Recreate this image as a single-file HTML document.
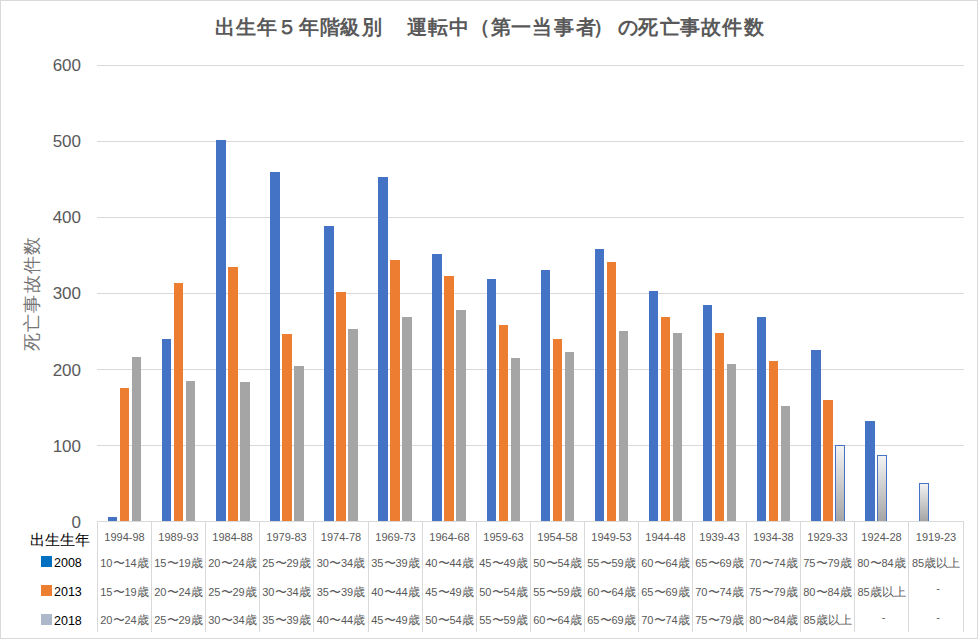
<!DOCTYPE html>
<html lang="ja"><head><meta charset="utf-8"><style>
*{margin:0;padding:0;box-sizing:border-box}
html,body{width:978px;height:639px;overflow:hidden;background:#fff}
body{position:relative;font-family:"Liberation Sans",sans-serif}
#frame{position:absolute;left:0;top:0;width:978px;height:639px;border:1px solid #D9D9D9}
svg{position:absolute;left:0;top:0}
.t{position:absolute;white-space:nowrap}
.tt{position:absolute;top:12px;font-weight:bold;font-size:19.5px;color:#595959;line-height:30px;white-space:nowrap}
.yl{position:absolute;left:30px;width:51px;text-align:right;font-size:17px;color:#595959;line-height:20px}
#ytitle{position:absolute;left:32px;top:293.5px;transform:translate(-50%,-50%) rotate(-90deg);font-size:17.5px;letter-spacing:1.3px;text-indent:1.3px;color:#757575;white-space:nowrap;line-height:22px}
.tc{position:absolute;width:54px;text-align:center;font-size:11px;color:#595959;line-height:16px;white-space:nowrap}
.lg{position:absolute;font-size:12.5px;color:#000;line-height:16px}
.sq{position:absolute;width:11px;height:11px}
.j{font-size:11.6px}
</style></head><body>
<div id="frame"></div>
<svg width="978" height="639" viewBox="0 0 978 639" shape-rendering="crispEdges">
<defs><linearGradient id="g" x1="0" y1="0" x2="0" y2="1"><stop offset="0" stop-color="#F4F4F4"/><stop offset="1" stop-color="#A5A5A5"/></linearGradient></defs>
<rect x="97" y="65" width="867" height="1" fill="#D9D9D9"/>
<rect x="97" y="141" width="867" height="1" fill="#D9D9D9"/>
<rect x="97" y="217" width="867" height="1" fill="#D9D9D9"/>
<rect x="97" y="293" width="867" height="1" fill="#D9D9D9"/>
<rect x="97" y="369" width="867" height="1" fill="#D9D9D9"/>
<rect x="97" y="445" width="867" height="1" fill="#D9D9D9"/>
<rect x="97" y="521" width="867" height="1" fill="#D9D9D9"/>
<rect x="97" y="521" width="1" height="111" fill="#D9D9D9"/>
<rect x="151" y="521" width="1" height="111" fill="#D9D9D9"/>
<rect x="205" y="521" width="1" height="111" fill="#D9D9D9"/>
<rect x="259" y="521" width="1" height="111" fill="#D9D9D9"/>
<rect x="313" y="521" width="1" height="111" fill="#D9D9D9"/>
<rect x="368" y="521" width="1" height="111" fill="#D9D9D9"/>
<rect x="422" y="521" width="1" height="111" fill="#D9D9D9"/>
<rect x="476" y="521" width="1" height="111" fill="#D9D9D9"/>
<rect x="530" y="521" width="1" height="111" fill="#D9D9D9"/>
<rect x="584" y="521" width="1" height="111" fill="#D9D9D9"/>
<rect x="638" y="521" width="1" height="111" fill="#D9D9D9"/>
<rect x="692" y="521" width="1" height="111" fill="#D9D9D9"/>
<rect x="746" y="521" width="1" height="111" fill="#D9D9D9"/>
<rect x="800" y="521" width="1" height="111" fill="#D9D9D9"/>
<rect x="854" y="521" width="1" height="111" fill="#D9D9D9"/>
<rect x="908" y="521" width="1" height="111" fill="#D9D9D9"/>
<rect x="963" y="521" width="1" height="111" fill="#D9D9D9"/>
<rect x="108" y="517" width="9" height="4" fill="#4472C4"/>
<rect x="120" y="388" width="9" height="133" fill="#ED7D31"/>
<rect x="132" y="357" width="9" height="164" fill="#A5A5A5"/>
<rect x="162" y="339" width="9" height="182" fill="#4472C4"/>
<rect x="174" y="283" width="9" height="238" fill="#ED7D31"/>
<rect x="186" y="381" width="9" height="140" fill="#A5A5A5"/>
<rect x="216" y="140" width="10" height="381" fill="#4472C4"/>
<rect x="228" y="267" width="10" height="254" fill="#ED7D31"/>
<rect x="240" y="382" width="10" height="139" fill="#A5A5A5"/>
<rect x="270" y="172" width="10" height="349" fill="#4472C4"/>
<rect x="282" y="334" width="10" height="187" fill="#ED7D31"/>
<rect x="294" y="366" width="10" height="155" fill="#A5A5A5"/>
<rect x="324" y="226" width="10" height="295" fill="#4472C4"/>
<rect x="336" y="292" width="10" height="229" fill="#ED7D31"/>
<rect x="348" y="329" width="10" height="192" fill="#A5A5A5"/>
<rect x="378" y="177" width="10" height="344" fill="#4472C4"/>
<rect x="390" y="260" width="10" height="261" fill="#ED7D31"/>
<rect x="402" y="317" width="10" height="204" fill="#A5A5A5"/>
<rect x="432" y="254" width="10" height="267" fill="#4472C4"/>
<rect x="444" y="276" width="10" height="245" fill="#ED7D31"/>
<rect x="456" y="310" width="10" height="211" fill="#A5A5A5"/>
<rect x="487" y="279" width="9" height="242" fill="#4472C4"/>
<rect x="499" y="325" width="9" height="196" fill="#ED7D31"/>
<rect x="511" y="358" width="9" height="163" fill="#A5A5A5"/>
<rect x="541" y="270" width="9" height="251" fill="#4472C4"/>
<rect x="553" y="339" width="9" height="182" fill="#ED7D31"/>
<rect x="565" y="352" width="9" height="169" fill="#A5A5A5"/>
<rect x="595" y="249" width="9" height="272" fill="#4472C4"/>
<rect x="607" y="262" width="9" height="259" fill="#ED7D31"/>
<rect x="619" y="331" width="9" height="190" fill="#A5A5A5"/>
<rect x="649" y="291" width="9" height="230" fill="#4472C4"/>
<rect x="661" y="317" width="9" height="204" fill="#ED7D31"/>
<rect x="673" y="333" width="9" height="188" fill="#A5A5A5"/>
<rect x="703" y="305" width="9" height="216" fill="#4472C4"/>
<rect x="715" y="333" width="9" height="188" fill="#ED7D31"/>
<rect x="727" y="364" width="9" height="157" fill="#A5A5A5"/>
<rect x="757" y="317" width="9" height="204" fill="#4472C4"/>
<rect x="769" y="361" width="9" height="160" fill="#ED7D31"/>
<rect x="781" y="406" width="9" height="115" fill="#A5A5A5"/>
<rect x="811" y="350" width="10" height="171" fill="#4472C4"/>
<rect x="823" y="400" width="10" height="121" fill="#ED7D31"/>
<rect x="835" y="445" width="10" height="76" fill="url(#g)"/>
<path d="M835.5 521V445.5H844.5V521" fill="none" stroke="#4472C4" stroke-width="1"/>
<rect x="865" y="421" width="10" height="100" fill="#4472C4"/>
<rect x="877" y="455" width="10" height="66" fill="url(#g)"/>
<path d="M877.5 521V455.5H886.5V521" fill="none" stroke="#4472C4" stroke-width="1"/>
<rect x="919" y="483" width="10" height="38" fill="url(#g)"/>
<path d="M919.5 521V483.5H928.5V521" fill="none" stroke="#4472C4" stroke-width="1"/>
</svg>
<span class="tt" style="left:215.1px">出</span><span class="tt" style="left:236.1px">生</span><span class="tt" style="left:257px">年</span><span class="tt" style="left:277.1px">５</span><span class="tt" style="left:299px">年</span><span class="tt" style="left:320.2px">階</span><span class="tt" style="left:340.1px">級</span><span class="tt" style="left:362.1px">別</span><span class="tt" style="left:406.8px">運</span><span class="tt" style="left:427.9px">転</span><span class="tt" style="left:449.1px">中</span><span class="tt" style="left:469.8px">（</span><span class="tt" style="left:491px">第</span><span class="tt" style="left:511px">一</span><span class="tt" style="left:532px">当</span><span class="tt" style="left:553.9px">事</span><span class="tt" style="left:575.7px">者</span><span class="tt" style="left:592.6px">）</span><span class="tt" style="left:617.5px">の</span><span class="tt" style="left:638px">死</span><span class="tt" style="left:660px">亡</span><span class="tt" style="left:680.2px">事</span><span class="tt" style="left:701.1px">故</span><span class="tt" style="left:721.9px">件</span><span class="tt" style="left:743.8px">数</span>
<div id="ytitle">死亡事故件数</div>
<div class="yl" style="top:56px">600</div>
<div class="yl" style="top:132px">500</div>
<div class="yl" style="top:208px">400</div>
<div class="yl" style="top:284px">300</div>
<div class="yl" style="top:361px">200</div>
<div class="yl" style="top:437px">100</div>
<div class="yl" style="top:513px">0</div>
<div class="tc" style="left:97.5px;top:529.0px">1994-98</div>
<div class="tc" style="left:151.5px;top:529.0px">1989-93</div>
<div class="tc" style="left:205.5px;top:529.0px">1984-88</div>
<div class="tc" style="left:259.5px;top:529.0px">1979-83</div>
<div class="tc" style="left:314.0px;top:529.0px">1974-78</div>
<div class="tc" style="left:368.5px;top:529.0px">1969-73</div>
<div class="tc" style="left:422.5px;top:529.0px">1964-68</div>
<div class="tc" style="left:476.5px;top:529.0px">1959-63</div>
<div class="tc" style="left:530.5px;top:529.0px">1954-58</div>
<div class="tc" style="left:584.5px;top:529.0px">1949-53</div>
<div class="tc" style="left:638.5px;top:529.0px">1944-48</div>
<div class="tc" style="left:692.5px;top:529.0px">1939-43</div>
<div class="tc" style="left:746.5px;top:529.0px">1934-38</div>
<div class="tc" style="left:800.5px;top:529.0px">1929-33</div>
<div class="tc" style="left:854.5px;top:529.0px">1924-28</div>
<div class="tc" style="left:909.0px;top:529.0px">1919-23</div>
<div class="tc" style="left:97.5px;top:554.5px">10<span class="j">〜</span>14<span class="j">歳</span></div>
<div class="tc" style="left:151.5px;top:554.5px">15<span class="j">〜</span>19<span class="j">歳</span></div>
<div class="tc" style="left:205.5px;top:554.5px">20<span class="j">〜</span>24<span class="j">歳</span></div>
<div class="tc" style="left:259.5px;top:554.5px">25<span class="j">〜</span>29<span class="j">歳</span></div>
<div class="tc" style="left:314.0px;top:554.5px">30<span class="j">〜</span>34<span class="j">歳</span></div>
<div class="tc" style="left:368.5px;top:554.5px">35<span class="j">〜</span>39<span class="j">歳</span></div>
<div class="tc" style="left:422.5px;top:554.5px">40<span class="j">〜</span>44<span class="j">歳</span></div>
<div class="tc" style="left:476.5px;top:554.5px">45<span class="j">〜</span>49<span class="j">歳</span></div>
<div class="tc" style="left:530.5px;top:554.5px">50<span class="j">〜</span>54<span class="j">歳</span></div>
<div class="tc" style="left:584.5px;top:554.5px">55<span class="j">〜</span>59<span class="j">歳</span></div>
<div class="tc" style="left:638.5px;top:554.5px">60<span class="j">〜</span>64<span class="j">歳</span></div>
<div class="tc" style="left:692.5px;top:554.5px">65<span class="j">〜</span>69<span class="j">歳</span></div>
<div class="tc" style="left:746.5px;top:554.5px">70<span class="j">〜</span>74<span class="j">歳</span></div>
<div class="tc" style="left:800.5px;top:554.5px">75<span class="j">〜</span>79<span class="j">歳</span></div>
<div class="tc" style="left:854.5px;top:554.5px">80<span class="j">〜</span>84<span class="j">歳</span></div>
<div class="tc" style="left:909.0px;top:554.5px">85<span class="j">歳以上</span></div>
<div class="tc" style="left:97.5px;top:583.5px">15<span class="j">〜</span>19<span class="j">歳</span></div>
<div class="tc" style="left:151.5px;top:583.5px">20<span class="j">〜</span>24<span class="j">歳</span></div>
<div class="tc" style="left:205.5px;top:583.5px">25<span class="j">〜</span>29<span class="j">歳</span></div>
<div class="tc" style="left:259.5px;top:583.5px">30<span class="j">〜</span>34<span class="j">歳</span></div>
<div class="tc" style="left:314.0px;top:583.5px">35<span class="j">〜</span>39<span class="j">歳</span></div>
<div class="tc" style="left:368.5px;top:583.5px">40<span class="j">〜</span>44<span class="j">歳</span></div>
<div class="tc" style="left:422.5px;top:583.5px">45<span class="j">〜</span>49<span class="j">歳</span></div>
<div class="tc" style="left:476.5px;top:583.5px">50<span class="j">〜</span>54<span class="j">歳</span></div>
<div class="tc" style="left:530.5px;top:583.5px">55<span class="j">〜</span>59<span class="j">歳</span></div>
<div class="tc" style="left:584.5px;top:583.5px">60<span class="j">〜</span>64<span class="j">歳</span></div>
<div class="tc" style="left:638.5px;top:583.5px">65<span class="j">〜</span>69<span class="j">歳</span></div>
<div class="tc" style="left:692.5px;top:583.5px">70<span class="j">〜</span>74<span class="j">歳</span></div>
<div class="tc" style="left:746.5px;top:583.5px">75<span class="j">〜</span>79<span class="j">歳</span></div>
<div class="tc" style="left:800.5px;top:583.5px">80<span class="j">〜</span>84<span class="j">歳</span></div>
<div class="tc" style="left:854.5px;top:583.5px">85<span class="j">歳以上</span></div>
<div class="tc" style="left:911.0px;top:580.0px">-</div>
<div class="tc" style="left:97.5px;top:612px">20<span class="j">〜</span>24<span class="j">歳</span></div>
<div class="tc" style="left:151.5px;top:612px">25<span class="j">〜</span>29<span class="j">歳</span></div>
<div class="tc" style="left:205.5px;top:612px">30<span class="j">〜</span>34<span class="j">歳</span></div>
<div class="tc" style="left:259.5px;top:612px">35<span class="j">〜</span>39<span class="j">歳</span></div>
<div class="tc" style="left:314.0px;top:612px">40<span class="j">〜</span>44<span class="j">歳</span></div>
<div class="tc" style="left:368.5px;top:612px">45<span class="j">〜</span>49<span class="j">歳</span></div>
<div class="tc" style="left:422.5px;top:612px">50<span class="j">〜</span>54<span class="j">歳</span></div>
<div class="tc" style="left:476.5px;top:612px">55<span class="j">〜</span>59<span class="j">歳</span></div>
<div class="tc" style="left:530.5px;top:612px">60<span class="j">〜</span>64<span class="j">歳</span></div>
<div class="tc" style="left:584.5px;top:612px">65<span class="j">〜</span>69<span class="j">歳</span></div>
<div class="tc" style="left:638.5px;top:612px">70<span class="j">〜</span>74<span class="j">歳</span></div>
<div class="tc" style="left:692.5px;top:612px">75<span class="j">〜</span>79<span class="j">歳</span></div>
<div class="tc" style="left:746.5px;top:612px">80<span class="j">〜</span>84<span class="j">歳</span></div>
<div class="tc" style="left:800.5px;top:612px">85<span class="j">歳以上</span></div>
<div class="tc" style="left:856.5px;top:608.5px">-</div>
<div class="tc" style="left:911.0px;top:608.5px">-</div>
<div class="t" style="left:30px;top:531px;font-size:14.7px;color:#000;line-height:18px">出生生年</div>
<div class="sq" style="left:41px;top:556px;background:#0070C0"></div>
<div class="lg" style="left:54px;top:555px">2008</div>
<div class="sq" style="left:41px;top:585px;background:#ED7D31"></div>
<div class="lg" style="left:54px;top:584px">2013</div>
<div class="sq" style="left:41px;top:614px;background:#ADB9CA"></div>
<div class="lg" style="left:54px;top:613px">2018</div>
</body></html>
